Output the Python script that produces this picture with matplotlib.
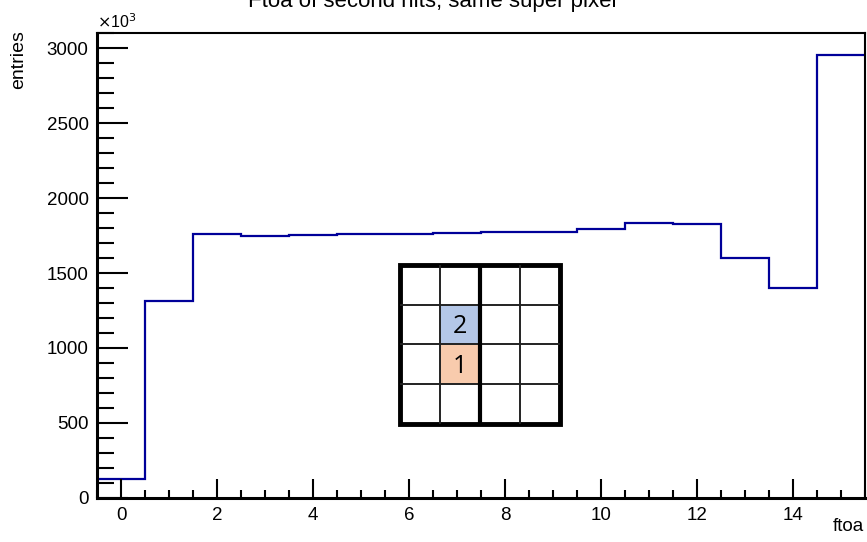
import numpy as np
import matplotlib.pyplot as plt
from matplotlib.patches import Rectangle
from matplotlib.ticker import MultipleLocator

plt.rcParams['font.family'] = ['Liberation Sans', 'DejaVu Sans']

# ftoa histogram, 16 bins centred on 0..15, entries in units of 10^3
ftoa_edges = np.arange(-0.5, 16.0, 1.0)
entries_k = [125, 1315, 1763, 1750, 1754, 1758, 1762, 1767,
             1771, 1774, 1797, 1836, 1829, 1600, 1400, 2953]

# inset sketch of the super pixel (4x4 cells), hit order labels
cell_labels = {(1, 1): "2", (1, 2): "1"}
cell_colors = {(1, 1): "#b4c7e7", (1, 2): "#f8cbad"}

fig = plt.figure(figsize=(8.67, 5.42), dpi=100)
ax = fig.add_axes([0.1119, 0.0817, 0.8858, 0.857])

ax.stairs(entries_k, ftoa_edges, baseline=None, color='#000099', linewidth=1.6)

ax.set_xlim(-0.5, 15.5)
ax.set_ylim(0, 1.05 * max(entries_k))

# ROOT style ticks: inside, on bottom/left only
ax.xaxis.set_major_locator(MultipleLocator(2))
ax.xaxis.set_minor_locator(MultipleLocator(0.5))
ax.yaxis.set_major_locator(MultipleLocator(500))
ax.yaxis.set_minor_locator(MultipleLocator(100))
ax.tick_params(axis='x', which='major', direction='in', length=14, width=1.5,
               labelsize=13.5, pad=7)
ax.tick_params(axis='x', which='minor', direction='in', length=6, width=1.5)
ax.tick_params(axis='y', which='major', direction='in', length=22, width=1.5,
               labelsize=13.5, pad=6)
ax.tick_params(axis='y', which='minor', direction='in', length=12, width=1.5)

for side in ['left', 'bottom']:
    ax.spines[side].set_linewidth(2.2)
for side in ['top', 'right']:
    ax.spines[side].set_linewidth(1.5)

fig.text(0.1119, 0.943, r'$\times$10$^{3}$', fontsize=11.5, ha='left', va='bottom')
fig.text(0.022, 0.945, 'entries', rotation=90, fontsize=14, ha='center', va='top')
fig.text(0.997, 0.012, 'ftoa', fontsize=13.5, ha='right', va='bottom')
fig.text(0.499, 0.987, 'Ftoa of second hits, same super pixel', fontsize=16,
         ha='center', va='baseline')

# inset: super pixel sketch
ins = fig.add_axes([400 / 867, 1 - 423.5 / 542, 160 / 867, 158.5 / 542])
ins.set_xlim(0, 4)
ins.set_ylim(4, 0)
ins.axis('off')
for (col, row), c in cell_colors.items():
    ins.add_patch(Rectangle((col, row), 1, 1, facecolor=c, edgecolor='none'))
for (col, row), t in cell_labels.items():
    ins.text(col + 0.5, row + 0.55, t, fontsize=18, ha='center', va='center',
             family=['Open Sans', 'DejaVu Sans'])
for k in [1, 3]:
    ins.plot([k, k], [0, 4], color='#222222', lw=1.4)
    ins.plot([0, 4], [k, k], color='#222222', lw=1.4)
ins.plot([0, 4], [2, 2], color='#222222', lw=1.4)
ins.plot([2, 2], [0, 4], color='black', lw=3.0)
ins.add_patch(Rectangle((0, 0), 4, 4, facecolor='none', edgecolor='black',
                        lw=3.5, clip_on=False))

fig.savefig('out.png', dpi=100)
